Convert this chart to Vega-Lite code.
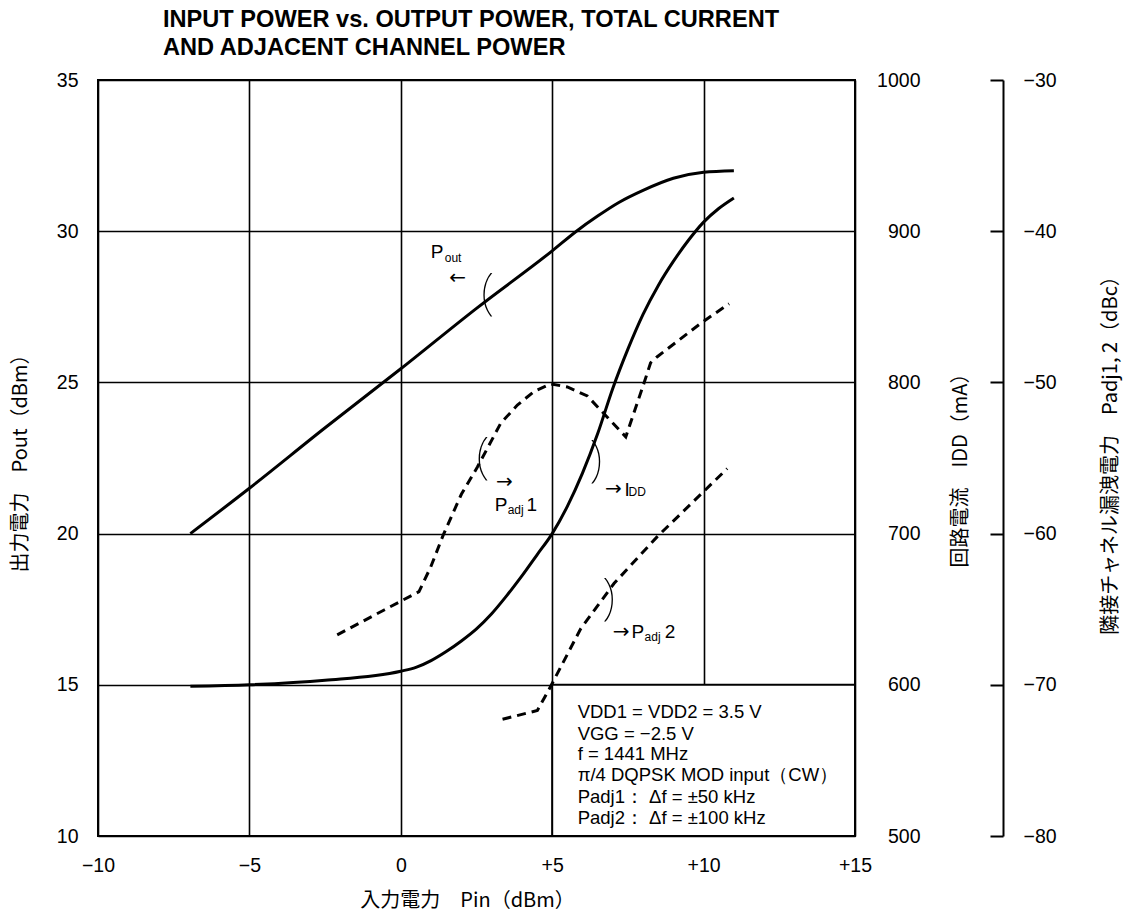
{
  "$schema": "https://vega.github.io/schema/vega-lite/v6.json",
  "autosize": "none",
  "padding": {"left": 98, "top": 80, "right": 269, "bottom": 79},
  "width": 757,
  "height": 756,
  "background": "white",
  "config": {
    "view": {"stroke": "black", "strokeWidth": 2},
    "font": "Liberation Sans",
    "axis": {
      "labelFont": "Liberation Sans", "labelFontSize": 19.5, "labelColor": "black",
      "titleFont": "Noto Sans CJK JP", "titleFontSize": 20, "titleFontWeight": "normal", "titleColor": "black",
      "gridColor": "black", "gridOpacity": 1, "gridWidth": 1.6,
      "domainColor": "black", "tickColor": "black", "labelFlush": false, "labelOverlap": false
    }
  },
  "title": {
    "text": ["INPUT POWER vs. OUTPUT POWER, TOTAL CURRENT", "AND ADJACENT CHANNEL POWER"],
    "anchor": "start", "frame": "group", "dx": 65,
    "font": "Liberation Sans", "fontSize": 23.6, "fontWeight": "bold", "color": "black",
    "lineHeight": 28, "offset": 10
  },
  "datasets": {
    "pout": [
      {"pin": -6.95, "pout": 20.0}, {"pin": -5, "pout": 21.5}, {"pin": -2.5, "pout": 23.5},
      {"pin": 0, "pout": 25.45}, {"pin": 2.5, "pout": 27.45}, {"pin": 5, "pout": 29.35},
      {"pin": 5.8, "pout": 30.0}, {"pin": 6.5, "pout": 30.5}, {"pin": 7.2, "pout": 30.95},
      {"pin": 8, "pout": 31.35}, {"pin": 9, "pout": 31.75}, {"pin": 10, "pout": 31.95}, {"pin": 11, "pout": 32.0}
    ],
    "idd": [
      {"pin": -6.95, "idd": 599}, {"pin": -5, "idd": 600}, {"pin": -2.5, "idd": 603},
      {"pin": 0, "idd": 609}, {"pin": 0.5, "idd": 611.5}, {"pin": 1, "idd": 616},
      {"pin": 1.5, "idd": 622}, {"pin": 2, "idd": 629}, {"pin": 2.5, "idd": 637},
      {"pin": 3, "idd": 647}, {"pin": 3.5, "idd": 659}, {"pin": 4, "idd": 672},
      {"pin": 4.5, "idd": 686}, {"pin": 5, "idd": 700}, {"pin": 5.5, "idd": 718},
      {"pin": 6, "idd": 740}, {"pin": 6.5, "idd": 766}, {"pin": 7, "idd": 796},
      {"pin": 7.5, "idd": 822}, {"pin": 8, "idd": 845}, {"pin": 8.5, "idd": 864},
      {"pin": 9, "idd": 880}, {"pin": 9.5, "idd": 894}, {"pin": 10, "idd": 906},
      {"pin": 10.5, "idd": 915}, {"pin": 11, "idd": 922}
    ],
    "padj": [
      {"s": "Padj1", "pin": -2.1, "dbc": -66.7}, {"s": "Padj1", "pin": -0.55, "dbc": -65.05},
      {"s": "Padj1", "pin": 0.6, "dbc": -63.84}, {"s": "Padj1", "pin": 0.99, "dbc": -62.2},
      {"s": "Padj1", "pin": 1.4, "dbc": -60.1}, {"s": "Padj1", "pin": 2.0, "dbc": -57.4},
      {"s": "Padj1", "pin": 2.53, "dbc": -55.6}, {"s": "Padj1", "pin": 3.3, "dbc": -52.7},
      {"s": "Padj1", "pin": 3.85, "dbc": -51.5}, {"s": "Padj1", "pin": 4.4, "dbc": -50.6},
      {"s": "Padj1", "pin": 4.95, "dbc": -50.1}, {"s": "Padj1", "pin": 5.5, "dbc": -50.3},
      {"s": "Padj1", "pin": 6.16, "dbc": -50.9}, {"s": "Padj1", "pin": 6.82, "dbc": -52.3},
      {"s": "Padj1", "pin": 7.43, "dbc": -53.6}, {"s": "Padj1", "pin": 8.03, "dbc": -50.06},
      {"s": "Padj1", "pin": 8.25, "dbc": -48.7}, {"s": "Padj1", "pin": 8.47, "dbc": -48.3},
      {"s": "Padj1", "pin": 9.9, "dbc": -46.1}, {"s": "Padj1", "pin": 10.84, "dbc": -44.8},
      {"s": "Padj2", "pin": 3.36, "dbc": -72.28}, {"s": "Padj2", "pin": 4.51, "dbc": -71.7},
      {"s": "Padj2", "pin": 4.95, "dbc": -70.1}, {"s": "Padj2", "pin": 5.94, "dbc": -66.3},
      {"s": "Padj2", "pin": 7.04, "dbc": -63.3}, {"s": "Padj2", "pin": 8.47, "dbc": -60.2},
      {"s": "Padj2", "pin": 9.96, "dbc": -57.3}, {"s": "Padj2", "pin": 10.78, "dbc": -55.7}
    ],
    "box": [{"pin": 5, "pin2": 15, "pout": 10, "pout2": 15}],
    "boxtext": [
      {"pin": 5.84, "pout": 14.1, "t": "VDD1 = VDD2 = 3.5 V"},
      {"pin": 5.84, "pout": 13.37, "t": "VGG = −2.5 V"},
      {"pin": 5.84, "pout": 12.71, "t": "f = 1441 MHz"},
      {"pin": 5.84, "pout": 12.02, "t": "π/4 DQPSK MOD input（CW）"},
      {"pin": 5.84, "pout": 11.29, "t": "Padj1： Δf = ±50 kHz"},
      {"pin": 5.84, "pout": 10.6, "t": "Padj2： Δf = ±100 kHz"}
    ],
    "mainlab": [
      {"pin": 0.99, "pout": 29.3, "t": "P"},
      {"pin": 3.1, "pout": 20.95, "t": "P"},
      {"pin": 4.15, "pout": 20.95, "t": "1"},
      {"pin": 7.39, "pout": 21.45, "t": "I"},
      {"pin": 7.62, "pout": 16.75, "t": "P"},
      {"pin": 8.72, "pout": 16.75, "t": "2"}
    ],
    "sublab": [
      {"pin": 1.45, "pout": 29.1, "t": "out"},
      {"pin": 3.53, "pout": 20.78, "t": "adj"},
      {"pin": 7.52, "pout": 21.38, "t": "DD"},
      {"pin": 8.05, "pout": 16.58, "t": "adj"}
    ],
    "arrows": [
      {"pin": 2.15, "pout": 28.45, "t": "←"},
      {"pin": 3.7, "pout": 21.71, "t": "→"},
      {"pin": 7.3, "pout": 21.48, "t": "→"},
      {"pin": 7.55, "pout": 16.75, "t": "→"}
    ],
    "brackets": [
      {"pin": 2.87, "pout": 27.92, "t": "("},
      {"pin": 2.71, "pout": 22.5, "t": "("},
      {"pin": 6.44, "pout": 22.4, "t": ")"},
      {"pin": 6.86, "pout": 17.84, "t": ")"}
    ]
  },
  "encoding": {
    "x": {
      "field": "pin", "type": "quantitative",
      "scale": {"domain": [-10, 15], "nice": false, "zero": false},
      "axis": {
        "values": [-10, -5, 0, 5, 10, 15], "grid": true, "ticks": false, "domain": false,
        "labelPadding": 20,
        "labelExpr": "datum.value > 0 ? '+' + datum.value : (datum.value < 0 ? '−' + abs(datum.value) : '0')",
        "title": "入力電力　Pin（dBm）", "titleX": 369, "titleY": 64,
        "titleAlign": "center", "titleBaseline": "middle"
      }
    }
  },
  "layer": [
    {
      "data": {"name": "box"},
      "mark": {"type": "rect", "fill": "white", "stroke": "black", "strokeWidth": 2},
      "encoding": {
        "x2": {"field": "pin2"},
        "y": {"field": "pout", "type": "quantitative", "scale": {"domain": [10, 35], "nice": false, "zero": false}, "axis": null},
        "y2": {"field": "pout2"}
      }
    },
    {
      "data": {"name": "pout"},
      "mark": {"type": "line", "color": "black", "strokeWidth": 3, "interpolate": "monotone"},
      "encoding": {
        "y": {
          "field": "pout", "type": "quantitative",
          "scale": {"domain": [10, 35], "nice": false, "zero": false},
          "axis": {
            "values": [10, 15, 20, 25, 30, 35], "grid": true, "ticks": false, "domain": false,
            "labelPadding": 20,
            "title": "出力電力　Pout（dBm）", "titleX": -78, "titleY": 378, "titleAngle": 270,
            "titleAlign": "center", "titleBaseline": "middle"
          }
        }
      }
    },
    {
      "data": {"name": "idd"},
      "mark": {"type": "line", "color": "black", "strokeWidth": 3, "interpolate": "monotone"},
      "encoding": {
        "y": {
          "field": "idd", "type": "quantitative",
          "scale": {"domain": [500, 1000], "nice": false, "zero": false},
          "axis": {
            "orient": "right", "offset": 148, "format": "d",
            "values": [500, 600, 700, 800, 900, 1000], "grid": false,
            "domain": true, "domainWidth": 2, "ticks": true, "tickSize": -13, "tickWidth": 2,
            "labelAlign": "right", "labelPadding": -70,
            "title": "回路電流　IDD（mA）", "titleX": -43, "titleY": 385, "titleAngle": 270,
            "titleAlign": "center", "titleBaseline": "middle"
          }
        }
      }
    },
    {
      "data": {"name": "padj"},
      "mark": {"type": "line", "color": "black", "strokeWidth": 3, "strokeDash": [9, 6]},
      "encoding": {
        "detail": {"field": "s"},
        "y": {
          "field": "dbc", "type": "quantitative",
          "scale": {"domain": [-80, -30], "nice": false, "zero": false},
          "axis": {
            "orient": "right", "offset": 168,
            "values": [-80, -70, -60, -50, -40, -30], "grid": false,
            "domain": false, "ticks": false,
            "labelAlign": "left", "labelPadding": 0,
            "title": "隣接チャネル漏洩電力　Padj1, 2（dBc）", "titleX": 87, "titleY": 370, "titleAngle": 270,
            "titleAlign": "center", "titleBaseline": "middle"
          }
        }
      }
    },
    {
      "data": {"name": "boxtext"},
      "mark": {"type": "text", "align": "left", "baseline": "middle", "fontSize": 18.5, "font": "Liberation Sans", "color": "black"},
      "encoding": {
        "y": {"field": "pout", "type": "quantitative", "scale": {"domain": [10, 35], "nice": false, "zero": false}, "axis": null},
        "text": {"field": "t"}
      }
    },
    {
      "data": {"name": "mainlab"},
      "mark": {"type": "text", "align": "left", "baseline": "middle", "fontSize": 19, "font": "Liberation Sans", "color": "black"},
      "encoding": {
        "y": {"field": "pout", "type": "quantitative", "scale": {"domain": [10, 35], "nice": false, "zero": false}, "axis": null},
        "text": {"field": "t"}
      }
    },
    {
      "data": {"name": "sublab"},
      "mark": {"type": "text", "align": "left", "baseline": "middle", "fontSize": 12, "font": "Liberation Sans", "color": "black"},
      "encoding": {
        "y": {"field": "pout", "type": "quantitative", "scale": {"domain": [10, 35], "nice": false, "zero": false}, "axis": null},
        "text": {"field": "t"}
      }
    },
    {
      "data": {"name": "arrows"},
      "mark": {"type": "text", "align": "right", "baseline": "middle", "fontSize": 20, "font": "DejaVu Sans", "color": "black"},
      "encoding": {
        "y": {"field": "pout", "type": "quantitative", "scale": {"domain": [10, 35], "nice": false, "zero": false}, "axis": null},
        "text": {"field": "t"}
      }
    },
    {
      "data": {"name": "brackets"},
      "mark": {"type": "text", "align": "center", "baseline": "middle", "fontSize": 50, "font": "Noto Sans", "fontWeight": 100, "color": "black"},
      "encoding": {
        "y": {"field": "pout", "type": "quantitative", "scale": {"domain": [10, 35], "nice": false, "zero": false}, "axis": null},
        "text": {"field": "t"}
      }
    }
  ],
  "resolve": {"scale": {"y": "independent"}, "axis": {"y": "independent"}}
}
